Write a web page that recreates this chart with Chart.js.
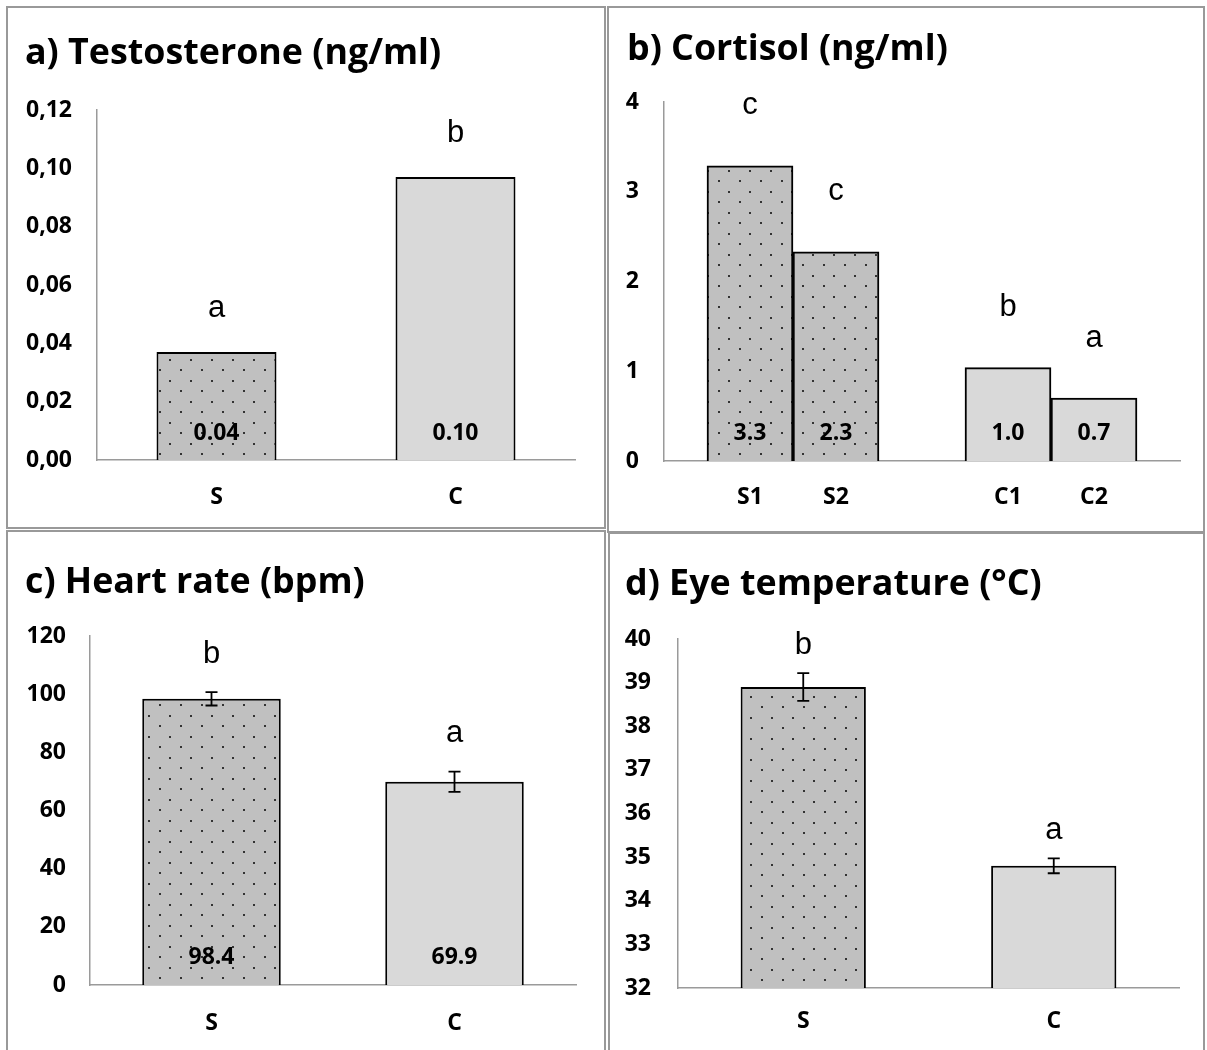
<!DOCTYPE html>
<html><head><meta charset="utf-8">
<script src="https://cdn.jsdelivr.net/npm/chart.js@4.4.1/dist/chart.umd.min.js"></script>
<style>
html,body{margin:0;padding:0;background:#fff;width:1207px;height:1050px;overflow:hidden;position:relative;}
.panel{position:absolute;border:2px solid #999;box-sizing:border-box;background:#fff;overflow:hidden;}
.panel canvas{position:absolute;left:0;top:0;}
</style></head><body>
<div class="panel" style="left:6px;top:6px;width:600px;height:523px"><canvas id="ca" width="596" height="519"></canvas></div>
<div class="panel" style="left:607px;top:6px;width:598px;height:527px"><canvas id="cb" width="594" height="523"></canvas></div>
<div class="panel" style="left:6px;top:530px;width:600px;height:540px"><canvas id="cc" width="596" height="536"></canvas></div>
<div class="panel" style="left:608px;top:532px;width:597px;height:540px"><canvas id="cd" width="593" height="536"></canvas></div>
<script>
// ---------- data ----------
const testoCategories = ["S", "C"];
const testoValues = [0.037, 0.097];
const testoLetters = ["a", "b"];
const testoTicks = [0, 0.02, 0.04, 0.06, 0.08, 0.10, 0.12];

const cortisolCategories = ["S1", "S2", "C1", "C2"];
const cortisolGroups = ["S", "S", "C", "C"];
const cortisolValues = [3.29, 2.33, 1.04, 0.70];
const cortisolLetters = ["c", "c", "b", "a"];
const cortisolTicks = [0, 1, 2, 3, 4];

const heartCategories = ["S", "C"];
const heartValues = [98.4, 69.9];
const heartErrors = [2.3, 3.5];
const heartLetters = ["b", "a"];
const heartTicks = [0, 20, 40, 60, 80, 100, 120];

const eyeCategories = ["S", "C"];
const eyeValues = [38.9, 34.8];
const eyeErrors = [0.32, 0.17];
const eyeLetters = ["b", "a"];
const eyeTicks = [32, 33, 34, 35, 36, 37, 38, 39, 40];

// ---------- styles ----------
const FONT = '"Open Sans"';
const TITLE_FONT = 'bold 35.8px "Open Sans"';
const TICK_SIZE = 23;
const LETTER_FONT = '31px "Liberation Sans", Arial, sans-serif';
const VALUE_FONT = 'bold 23px "Open Sans"';

function dotPattern(bg, dot) {
  const c = document.createElement('canvas');
  c.width = 21; c.height = 21;
  const g = c.getContext('2d');
  g.fillStyle = bg; g.fillRect(0, 0, 21, 21);
  g.fillStyle = dot;
  g.fillRect(4, 4, 2, 2);
  g.fillRect(14, 15, 2, 2);
  return g.createPattern(c, 'repeat');
}
const S_FILL = dotPattern('#c0c0c0', '#333333');
const C_FILL = '#d9d9d9';

const panelTitle = {
  id: 'panelTitle',
  afterDraw(chart, args, o) {
    const ctx = chart.ctx;
    ctx.save();
    ctx.fillStyle = '#000';
    ctx.font = TITLE_FONT;
    ctx.textAlign = 'left';
    ctx.textBaseline = 'alphabetic';
    ctx.fillText(o.text, o.x, o.y);
    ctx.restore();
  }
};

const annotate = {
  id: 'annotate',
  afterDatasetsDraw(chart, args, opts) {
    const ctx = chart.ctx;
    const ys = chart.scales.y;
    const meta = chart.getDatasetMeta(0);
    const ds = chart.data.datasets[0];
    ctx.save();
    meta.data.forEach((bar, i) => {
      const v = ds.data[i];
      if (v === null || v === undefined) return;
      let topY = bar.y;
      const e = opts.errors ? opts.errors[i] : null;
      if (e) {
        const y1 = ys.getPixelForValue(v + e), y2 = ys.getPixelForValue(v - e);
        ctx.strokeStyle = '#000'; ctx.lineWidth = 1.8;
        ctx.beginPath();
        ctx.moveTo(bar.x, y1); ctx.lineTo(bar.x, y2);
        ctx.moveTo(bar.x - 6, y1); ctx.lineTo(bar.x + 6, y1);
        ctx.moveTo(bar.x - 6, y2); ctx.lineTo(bar.x + 6, y2);
        ctx.stroke();
        topY = y1;
      }
      ctx.fillStyle = '#000';
      ctx.textAlign = 'center';
      ctx.textBaseline = 'middle';
      ctx.font = VALUE_FONT;
      ctx.fillText(v.toFixed(opts.digits), bar.x, bar.base - opts.valueLift);
      ctx.font = LETTER_FONT;
      ctx.fillText(opts.letters[i], bar.x, topY - opts.letterLift);
    });
    ctx.restore();
  }
};

function makePanel(id, spec, g) {
  const tickLH = TICK_SIZE * 1.2;
  const canvas = document.getElementById(id);
  const H = canvas.height, W = canvas.width;
  const PADL = 4;
  new Chart(canvas, {
    type: 'bar',
    data: {
      labels: spec.labels,
      datasets: [{
        data: spec.values,
        backgroundColor: spec.groups.map(gr => gr === 'S' ? S_FILL : C_FILL),
        borderColor: '#000',
        borderWidth: 2,
        categoryPercentage: 1,
        barPercentage: g.barFrac
      }]
    },
    options: {
      responsive: false,
      animation: false,
      devicePixelRatio: 1,
      layout: { padding: { left: PADL, right: W - g.right, top: g.top, bottom: 0 } },
      plugins: {
        legend: { display: false },
        tooltip: { enabled: false },
        title: { display: false },
        panelTitle: { text: spec.title, x: g.titleX, y: g.titleBase },
        annotate: { errors: spec.errors, letters: spec.letters, digits: spec.digits,
                    valueLift: g.valueLift, letterLift: g.letterLift }
      },
      scales: {
        x: {
          offset: spec.offset,
          grid: { display: false, drawTicks: false },
          border: { display: true, color: '#9a9a9a', width: 1.5 },
          ticks: { color: '#000', font: { family: FONT, size: TICK_SIZE, weight: 'bold' },
                   padding: g.xLabelMid - g.bottom - tickLH / 2, maxRotation: 0, autoSkip: false },
          afterFit(s) { s.height = H - g.bottom; }
        },
        y: {
          min: spec.ticks[0], max: spec.ticks[spec.ticks.length - 1],
          afterBuildTicks(s) { s.ticks = spec.ticks.map(v => ({ value: v })); },
          grid: { display: false, drawTicks: false },
          border: { display: true, color: '#9a9a9a', width: 1.5 },
          ticks: { color: '#000', font: { family: FONT, size: TICK_SIZE, weight: 'bold' },
                   padding: g.axisX - g.tickRight, callback: spec.tickFmt },
          afterFit(s) { s.width = g.axisX - PADL; }
        }
      }
    },
    plugins: [annotate, panelTitle]
  });
}

// panel a
makePanel('ca', {
  title: 'a) Testosterone (ng/ml)', labels: testoCategories, values: testoValues,
  groups: testoCategories, letters: testoLetters, errors: null, digits: 2, offset: true,
  ticks: testoTicks, tickFmt: v => Number(v).toFixed(2).replace('.', ',')
}, { axisX: 89, tickRight: 64, right: 567, titleX: 17, titleBase: 56, top: 102, bottom: 452,
     xLabelMid: 489, barFrac: 0.502, valueLift: 27, letterLift: 44 });

// panel b : groups separated by an empty slot
const cbLabels = [""], cbValues = [null], cbGroups = [""], cbLetters = [""];
cortisolCategories.forEach((c, i) => {
  if (i > 0 && cortisolGroups[i] !== cortisolGroups[i - 1]) {
    cbLabels.push(""); cbValues.push(null); cbGroups.push(""); cbLetters.push("");
  }
  cbLabels.push(c); cbValues.push(cortisolValues[i]); cbGroups.push(cortisolGroups[i]); cbLetters.push(cortisolLetters[i]);
});
cbLabels.push(""); cbValues.push(null); cbGroups.push(""); cbLetters.push("");
makePanel('cb', {
  title: 'b) Cortisol (ng/ml)', labels: cbLabels, values: cbValues,
  groups: cbGroups, letters: cbLetters, errors: null, digits: 1, offset: false,
  ticks: cortisolTicks, tickFmt: v => String(v)
}, { axisX: 55, tickRight: 30, right: 571, titleX: 18, titleBase: 52, top: 94, bottom: 453,
     xLabelMid: 489, barFrac: 1, valueLift: 28, letterLift: 60 });

// panel c
makePanel('cc', {
  title: 'c) Heart rate (bpm)', labels: heartCategories, values: heartValues,
  groups: heartCategories, letters: heartLetters, errors: heartErrors, digits: 1, offset: true,
  ticks: heartTicks, tickFmt: v => String(v)
}, { axisX: 82, tickRight: 58, right: 568, titleX: 17, titleBase: 61, top: 104, bottom: 453,
     xLabelMid: 491, barFrac: 0.57, valueLift: 28, letterLift: 38 });

// panel d
makePanel('cd', {
  title: 'd) Eye temperature (°C)', labels: eyeCategories, values: eyeValues,
  groups: eyeCategories, letters: eyeLetters, errors: eyeErrors, digits: 1, offset: true,
  ticks: eyeTicks, tickFmt: v => String(v)
}, { axisX: 68, tickRight: 41, right: 569, titleX: 15, titleBase: 61, top: 105, bottom: 454,
     xLabelMid: 487, barFrac: 0.5, valueLift: 30, letterLift: 28 });
</script>
</body></html>
